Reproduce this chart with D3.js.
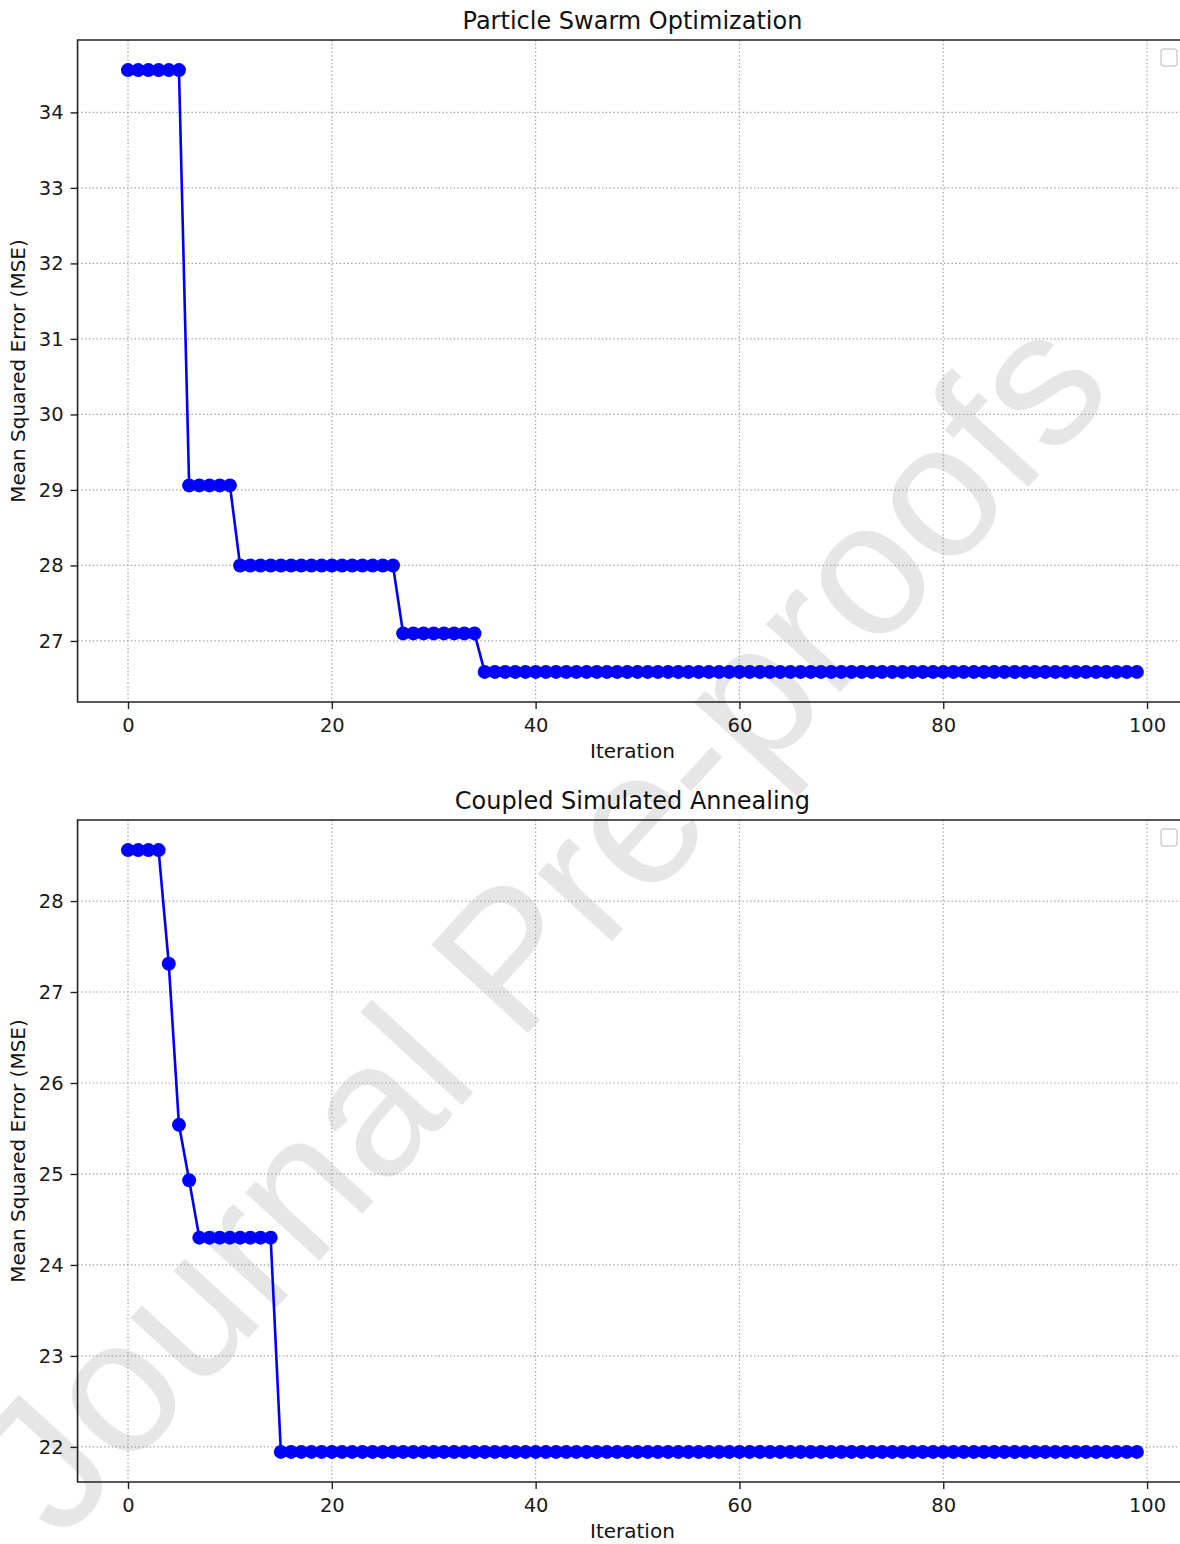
<!DOCTYPE html>
<html>
<head>
<meta charset="utf-8">
<script src="https://cdn.jsdelivr.net/npm/d3@7"></script>
<style>
  html, body { margin: 0; padding: 0; background: #fff; }
  svg { display: block; font-family: "DejaVu Sans", sans-serif; }
</style>
</head>
<body>
<svg id="chart" width="1180" height="1544"></svg>
<script>
// ---- Data ----
const titles = ["Particle Swarm Optimization", "Coupled Simulated Annealing"];
const xLabel = "Iteration";
const yLabel = "Mean Squared Error (MSE)";
const xTicks = [0, 20, 40, 60, 80, 100];
const psoTicks = [27, 28, 29, 30, 31, 32, 33, 34];
const csaTicks = [22, 23, 24, 25, 26, 27, 28];
// PSO best MSE per iteration (100 iterations), runs of constant values
const psoRuns = [[6, 34.56], [5, 29.06], [16, 28.0], [8, 27.1], [65, 26.59]];
// CSA best MSE per iteration
const csaRuns = [[4, 28.56], [1, 27.31], [1, 25.54], [1, 24.93], [8, 24.30], [85, 21.945]];
const watermark = "Journal Pre-proofs";

function expand(runs) {
  const out = [];
  runs.forEach(([n, v]) => { for (let i = 0; i < n; i++) out.push(v); });
  return out;
}
const psoValues = expand(psoRuns);
const csaValues = expand(csaRuns);

const svg = d3.select("#chart");

// watermark (drawn beneath plots, plots have transparent backgrounds)
svg.append("text")
  .attr("transform", "translate(540,922) rotate(-47.5)")
  .attr("text-anchor", "middle")
  .attr("dominant-baseline", "central")
  .style("font-family", "'Liberation Sans', Arial, sans-serif")
  .style("font-size", "190px")
  .attr("fill", "#e6e6e6")
  .text(watermark);

const panels = [
  { title: titles[0], values: psoValues, ticks: psoTicks, top: 40, bottom: 702 },
  { title: titles[1], values: csaValues, ticks: csaTicks, top: 820, bottom: 1482 }
];

const left = 77.56, right = 1187.3;

panels.forEach(p => {
  const n = p.values.length;
  const xmin = 0, xmax = n - 1;
  const xpad = (xmax - xmin) * 0.05;
  const x = d3.scaleLinear().domain([xmin - xpad, xmax + xpad]).range([left, right]);
  const [ymin, ymax] = d3.extent(p.values);
  const ypad = (ymax - ymin) * 0.05;
  const y = d3.scaleLinear().domain([ymin - ypad, ymax + ypad]).range([p.bottom, p.top]);

  const g = svg.append("g");

  // grid
  g.append("g").selectAll("line.vx").data(xTicks).join("line")
    .attr("x1", d => x(d)).attr("x2", d => x(d))
    .attr("y1", p.top).attr("y2", p.bottom)
    .attr("stroke", "#a0a0a0").attr("stroke-width", 1.2)
    .attr("stroke-dasharray", "1.4,2.4");
  g.append("g").selectAll("line.hy").data(p.ticks).join("line")
    .attr("x1", left).attr("x2", right)
    .attr("y1", d => y(d)).attr("y2", d => y(d))
    .attr("stroke", "#a0a0a0").attr("stroke-width", 1.2)
    .attr("stroke-dasharray", "1.4,2.4");

  // axes
  const xAxis = d3.axisBottom(x).tickValues(xTicks).tickSize(7).tickPadding(9).tickFormat(d3.format("d"));
  const yAxis = d3.axisLeft(y).tickValues(p.ticks).tickSize(7).tickPadding(7).tickFormat(d3.format("d"));
  const gx = g.append("g").attr("transform", `translate(0,${p.bottom})`).call(xAxis);
  const gy = g.append("g").attr("transform", `translate(${left},0)`).call(yAxis);
  [gx, gy].forEach(a => {
    a.select(".domain").remove();
    a.selectAll(".tick line").attr("stroke", "#222").attr("stroke-width", 1.4);
    a.selectAll(".tick text").attr("fill", "#1a1a1a").style("font-size", "19.5px")
      .style("font-family", "'DejaVu Sans', sans-serif");
  });

  // line + markers
  const line = d3.line().x((d, i) => x(i)).y(d => y(d));
  g.append("path").datum(p.values)
    .attr("d", line).attr("fill", "none")
    .attr("stroke", "#0000ff").attr("stroke-width", 2.6);
  g.append("g").selectAll("circle").data(p.values).join("circle")
    .attr("cx", (d, i) => x(i)).attr("cy", d => y(d)).attr("r", 7)
    .attr("fill", "#0000ff");

  // spines
  g.append("path")
    .attr("d", `M${right},${p.top} H${left} V${p.bottom} H${right} V${p.top}`)
    .attr("fill", "none").attr("stroke", "#222").attr("stroke-width", 1.6);

  // empty legend box
  g.append("rect")
    .attr("x", 1161).attr("y", p.top + 9).attr("width", 16).attr("height", 17)
    .attr("rx", 3).attr("fill", "#fff").attr("stroke", "#d0d0d0").attr("stroke-width", 1.5);

  // title
  g.append("text").attr("x", (left + right) / 2).attr("y", p.top - 11)
    .attr("text-anchor", "middle").style("font-size", "24px").attr("fill", "#111")
    .text(p.title);
  // x label
  g.append("text").attr("x", (left + right) / 2).attr("y", p.bottom + 56)
    .attr("text-anchor", "middle").style("font-size", "20px").attr("fill", "#111")
    .text(xLabel);
  // y label
  g.append("text")
    .attr("transform", `translate(25,${(p.top + p.bottom) / 2}) rotate(-90)`)
    .attr("text-anchor", "middle").style("font-size", "20px").attr("fill", "#111")
    .text(yLabel);
});
</script>
</body>
</html>
